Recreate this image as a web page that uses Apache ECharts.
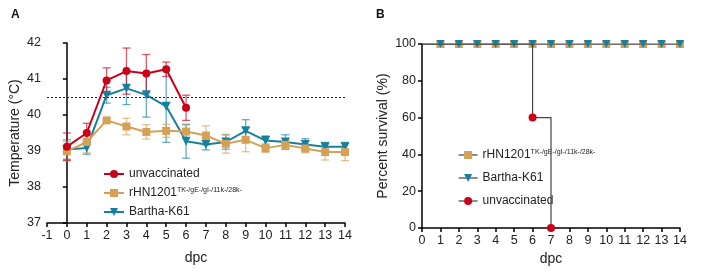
<!DOCTYPE html>
<html>
<head>
<meta charset="utf-8">
<script src="https://cdn.jsdelivr.net/npm/echarts@6/dist/echarts.min.js"></script>
<style>
  html, body { margin: 0; padding: 0; background: #fff; }
  #chart { width: 708px; height: 275px; }
</style>
</head>
<body>
<div id="chart"></div>
<script>
  // temperature panel (A)
  var days = [0, 1, 2, 3, 4, 5, 6, 7, 8, 9, 10, 11, 12, 13, 14];
  var unvacDays = [0, 1, 2, 3, 4, 5, 6];
  var unvacMean = [39.12, 39.50, 40.96, 41.22, 41.15, 41.27, 40.20];
  var unvacSD = [0.38, 0.27, 0.35, 0.64, 0.53, 0.20, 0.35];
  var rhnMean = [38.99, 39.25, 39.85, 39.68, 39.53, 39.56, 39.54, 39.43, 39.20, 39.31, 39.08, 39.17, 39.07, 38.97, 38.97];
  var rhnSD = [0.27, 0.30, 0.05, 0.23, 0.20, 0.18, 0.18, 0.27, 0.26, 0.33, 0.12, 0.13, 0.12, 0.22, 0.24];
  var bartMean = [39.04, 39.08, 40.55, 40.74, 40.56, 40.24, 39.27, 39.18, 39.25, 39.56, 39.29, 39.25, 39.18, 39.12, 39.12];
  var bartSD = [0.27, 0.17, 0.22, 0.45, 0.62, 1.00, 0.47, 0.15, 0.20, 0.31, 0.13, 0.20, 0.16, 0.12, 0.12];
  var feverLine = 40.5;

  // survival panel (B)
  var survDays = [0, 1, 2, 3, 4, 5, 6, 7, 8, 9, 10, 11, 12, 13, 14];
  var rhnSurv = [100, 100, 100, 100, 100, 100, 100, 100, 100, 100, 100, 100, 100, 100, 100];
  var bartSurv = [100, 100, 100, 100, 100, 100, 100, 100, 100, 100, 100, 100, 100, 100, 100];
  var unvacSurvDays = [0, 6, 7];
  var unvacSurv = [100, 60, 0];

  var RED = '#C9021A', TAN = '#D4A157', TEAL = '#17809E', GREY = '#444444';
  var FONT = 'Liberation Sans, Arial, sans-serif';

  function pts(xs, ys) {
    return xs.map(function (x, i) { return [x, ys[i]]; });
  }
  // first point of a survival curve has no marker
  function survPts(xs, ys) {
    return xs.map(function (x, i) {
      return i === 0 ? { value: [x, ys[i]], symbol: 'none' } : [x, ys[i]];
    });
  }
  function errData(xs, m, sd) {
    return xs.map(function (x, i) { return [x, m[i] - sd[i], m[i] + sd[i]]; });
  }
  function errSeries(data, color) {
    return {
      type: 'custom',
      xAxisIndex: 0, yAxisIndex: 0,
      z: 1,
      silent: true,
      data: data,
      renderItem: function (params, api) {
        var lo = api.coord([api.value(0), api.value(1)]);
        var hi = api.coord([api.value(0), api.value(2)]);
        var w = 4;
        var st = { stroke: color, lineWidth: 1.3, opacity: 0.65 };
        return {
          type: 'group',
          children: [
            { type: 'line', shape: { x1: lo[0], y1: lo[1], x2: hi[0], y2: hi[1] }, style: st },
            { type: 'line', shape: { x1: lo[0] - w, y1: lo[1], x2: lo[0] + w, y2: lo[1] }, style: st },
            { type: 'line', shape: { x1: hi[0] - w, y1: hi[1], x2: hi[0] + w, y2: hi[1] }, style: st }
          ]
        };
      }
    };
  }

  var axisLine = { show: true, lineStyle: { color: '#000', width: 1.5 } };
  var axisTick = { show: true, length: 4, lineStyle: { color: '#000', width: 1.5 } };
  var axisLabel = { color: '#222', fontSize: 12.5, fontFamily: FONT, margin: 6 };
  var nameStyle = { color: '#222', fontSize: 14, fontFamily: FONT };

  function legendFmt(name) {
    if (name === 'rHN1201') return '{a|rHN1201}{s|TK-/gE-/gI-/11k-/28k-}';
    return '{a|' + name + '}';
  }
  var legendText = {
    color: '#222', fontFamily: FONT, fontSize: 12,
    rich: {
      a: { fontSize: 12, fontFamily: FONT, color: '#222', lineHeight: 12 },
      s: { fontSize: 7, fontFamily: FONT, color: '#222', lineHeight: 12, verticalAlign: 'top' }
    }
  };

  var chart = echarts.init(document.getElementById('chart'));
  chart.setOption({
    animation: false,
    textStyle: { fontFamily: FONT },
    title: [
      { text: 'A', left: 6, top: 4, textStyle: { fontSize: 12, fontWeight: 'bold', color: '#111', fontFamily: FONT } },
      { text: 'B', left: 371, top: 4, textStyle: { fontSize: 12, fontWeight: 'bold', color: '#111', fontFamily: FONT } }
    ],
    grid: [
      { left: 47, top: 43, width: 298, height: 180 },
      { left: 422, top: 44, width: 258, height: 184 }
    ],
    xAxis: [
      {
        gridIndex: 0, type: 'value', min: -1, max: 14, interval: 1,
        name: 'dpc', nameLocation: 'middle', nameGap: 28, nameTextStyle: nameStyle,
        axisLine: axisLine, axisTick: axisTick, axisLabel: axisLabel, splitLine: { show: false }
      },
      {
        gridIndex: 1, type: 'value', min: 0, max: 14, interval: 1,
        name: 'dpc', nameLocation: 'middle', nameGap: 23, nameTextStyle: nameStyle,
        axisLine: axisLine, axisTick: axisTick, axisLabel: axisLabel, splitLine: { show: false }
      }
    ],
    yAxis: [
      {
        gridIndex: 0, type: 'value', min: 37, max: 42, interval: 1,
        name: 'Temperature (°C)', nameLocation: 'middle', nameGap: 25, nameTextStyle: nameStyle,
        axisLine: axisLine, axisTick: axisTick, axisLabel: axisLabel, splitLine: { show: false }
      },
      {
        gridIndex: 1, type: 'value', min: 0, max: 100, interval: 20,
        name: 'Percent survival (%)', nameLocation: 'middle', nameGap: 32, nameTextStyle: nameStyle,
        axisLine: axisLine, axisTick: axisTick, axisLabel: axisLabel, splitLine: { show: false }
      }
    ],
    legend: [
      {
        left: 98, top: 163, orient: 'vertical', itemWidth: 20, itemHeight: 10, itemGap: 7,
        data: ['unvaccinated', 'rHN1201', 'Bartha-K61'],
        formatter: legendFmt, textStyle: legendText, selectedMode: false
      },
      {
        left: 453, top: 144, orient: 'vertical', itemWidth: 19, itemHeight: 10, itemGap: 11,
        data: [
          { name: 'rHN1201', lineStyle: { color: GREY, width: 1.2 } },
          { name: 'Bartha-K61', lineStyle: { color: GREY, width: 1.2 } },
          { name: 'unvaccinated', lineStyle: { color: GREY, width: 1.2 } }
        ],
        formatter: legendFmt, textStyle: legendText, selectedMode: false
      }
    ],
    series: [
      errSeries(errData(days, bartMean, bartSD), TEAL),
      errSeries(errData(days, rhnMean, rhnSD), TAN),
      errSeries(errData(unvacDays, unvacMean, unvacSD), RED),
      {
        name: 'Bartha-K61', type: 'line', xAxisIndex: 0, yAxisIndex: 0, z: 3,
        data: pts(days, bartMean),
        symbol: 'triangle', symbolRotate: 180, symbolSize: 9,
        lineStyle: { color: TEAL, width: 2 }, itemStyle: { color: TEAL },
        markLine: {
          silent: true, symbol: 'none', label: { show: false },
          lineStyle: { color: '#222', type: [2, 2], width: 1 },
          data: [{ yAxis: feverLine }]
        }
      },
      {
        name: 'rHN1201', type: 'line', xAxisIndex: 0, yAxisIndex: 0, z: 4,
        data: pts(days, rhnMean),
        symbol: 'rect', symbolSize: 8,
        lineStyle: { color: TAN, width: 2 }, itemStyle: { color: TAN }
      },
      {
        name: 'unvaccinated', type: 'line', xAxisIndex: 0, yAxisIndex: 0, z: 5,
        data: pts(unvacDays, unvacMean),
        symbol: 'circle', symbolSize: 8,
        lineStyle: { color: RED, width: 2 }, itemStyle: { color: RED }
      },
      {
        name: 'rHN1201', type: 'line', xAxisIndex: 1, yAxisIndex: 1, z: 3,
        data: survPts(survDays, rhnSurv),
        symbol: 'rect', symbolSize: 8,
        lineStyle: { color: GREY, width: 1.2 }, itemStyle: { color: TAN }
      },
      {
        name: 'Bartha-K61', type: 'line', xAxisIndex: 1, yAxisIndex: 1, z: 4,
        data: survPts(survDays, bartSurv),
        symbol: 'triangle', symbolRotate: 180, symbolSize: 8,
        lineStyle: { color: GREY, width: 1.2 }, itemStyle: { color: TEAL }
      },
      {
        name: 'unvaccinated', type: 'line', xAxisIndex: 1, yAxisIndex: 1, z: 5,
        step: 'end',
        data: survPts(unvacSurvDays, unvacSurv),
        symbol: 'circle', symbolSize: 8,
        lineStyle: { color: GREY, width: 1.2 }, itemStyle: { color: RED }
      }
    ]
  });
</script>
</body>
</html>
